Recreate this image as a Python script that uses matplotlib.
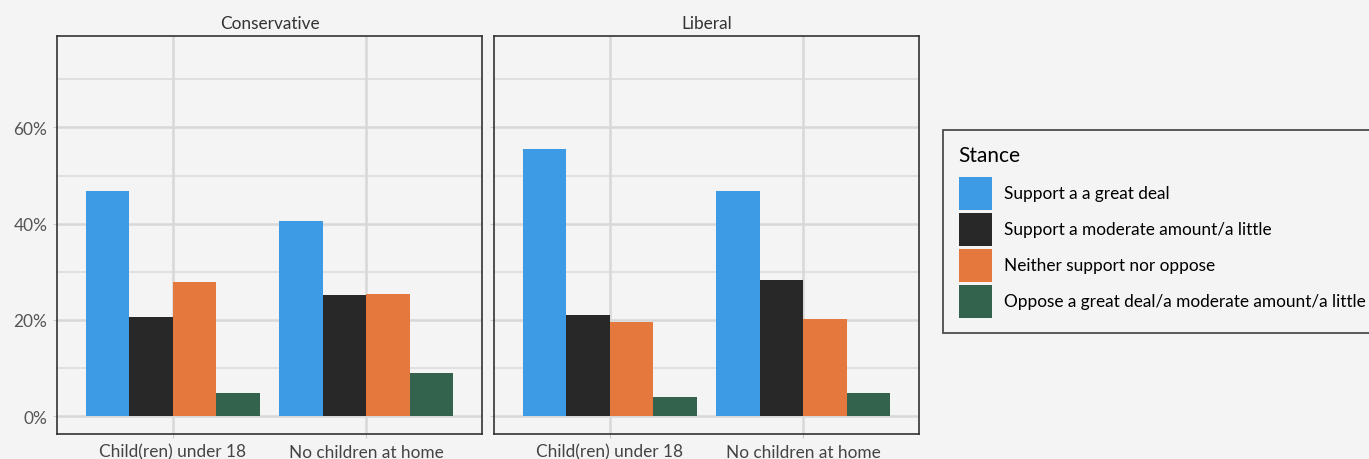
import matplotlib.pyplot as plt
import numpy as np
from matplotlib.patches import Patch
from matplotlib.ticker import MultipleLocator, FuncFormatter

plt.rcParams['font.family'] = ['Lato', 'DejaVu Sans']

panels = ["Conservative", "Liberal"]
groups = ["Child(ren) under 18", "No children at home"]
stances = ["Support a a great deal", "Support a moderate amount/a little",
           "Neither support nor oppose", "Oppose a great deal/a moderate amount/a little"]
colors = ["#3d9be6", "#282828", "#e5793d", "#33634d"]

# percent values [stance][group]
conservative = [[46.7, 40.5], [20.6, 25.1], [27.8, 25.3], [4.8, 8.9]]
liberal = [[55.6, 46.7], [21.0, 28.2], [19.5, 20.1], [3.9, 4.8]]

bg = "#f4f4f4"
W, H = 1369, 460
fs = 12.4
fig = plt.figure(figsize=(W / 100, H / 100), dpi=100, facecolor=bg)

def px_axes(x0, y0, x1, y1):
    return fig.add_axes([x0 / W, 1 - y1 / H, (x1 - x0) / W, (y1 - y0) / H])

axes = [px_axes(57, 37, 482, 435), px_axes(494, 37, 919, 435)]
x = np.arange(1, len(groups) + 1)
bw = 0.9 / len(stances)

for ax, title, data in zip(axes, panels, [conservative, liberal]):
    ax.set_facecolor(bg)
    for i, vals in enumerate(data):
        ax.bar(x - 0.45 + bw * (i + 0.5), vals, bw, color=colors[i], zorder=3)
    ax.set_xlim(0.4, 2.6)
    ax.set_ylim(-3.7, 79)
    ax.yaxis.set_major_locator(MultipleLocator(20))
    ax.yaxis.set_minor_locator(MultipleLocator(10))
    ax.set_xticks(x)
    ax.set_xticklabels(groups, fontsize=fs, color="#444444")
    ax.grid(True, which="major", color="#d8d8d8", linewidth=1.8, zorder=0)
    ax.grid(True, which="minor", axis="y", color="#dadada", linewidth=1.1, zorder=0)
    ax.tick_params(axis="both", which="both", length=3, color="#cccccc", pad=4)
    ax.tick_params(axis="y", which="minor", length=0)
    ax.yaxis.set_major_formatter(FuncFormatter(lambda v, p: f"{v:.0f}%"))
    ax.tick_params(axis="y", labelsize=fs, labelcolor="#555555")
    for s in ax.spines.values():
        s.set_color("#333333")
        s.set_linewidth(1.2)
    ax.set_title(title, fontsize=fs, color="#333333", pad=6)

axes[1].tick_params(axis="y", labelleft=False)

handles = [Patch(facecolor=c, edgecolor="none") for c in colors]
leg = fig.legend(handles, stances, loc="upper left", bbox_to_anchor=(943 / W, 1 - 131 / H),
                 title="Stance", fontsize=fs, title_fontsize=15, frameon=True,
                 fancybox=False, handlelength=1.92, handleheight=2.58, handletextpad=0.75,
                 labelspacing=0.17, borderpad=0.9, borderaxespad=0, facecolor=bg,
                 edgecolor="#222222")
leg.get_frame().set_linewidth(1.3)
leg._legend_box.align = "left"
leg._legend_box.sep = 8

fig.savefig("out.png", dpi=100, facecolor=bg)
